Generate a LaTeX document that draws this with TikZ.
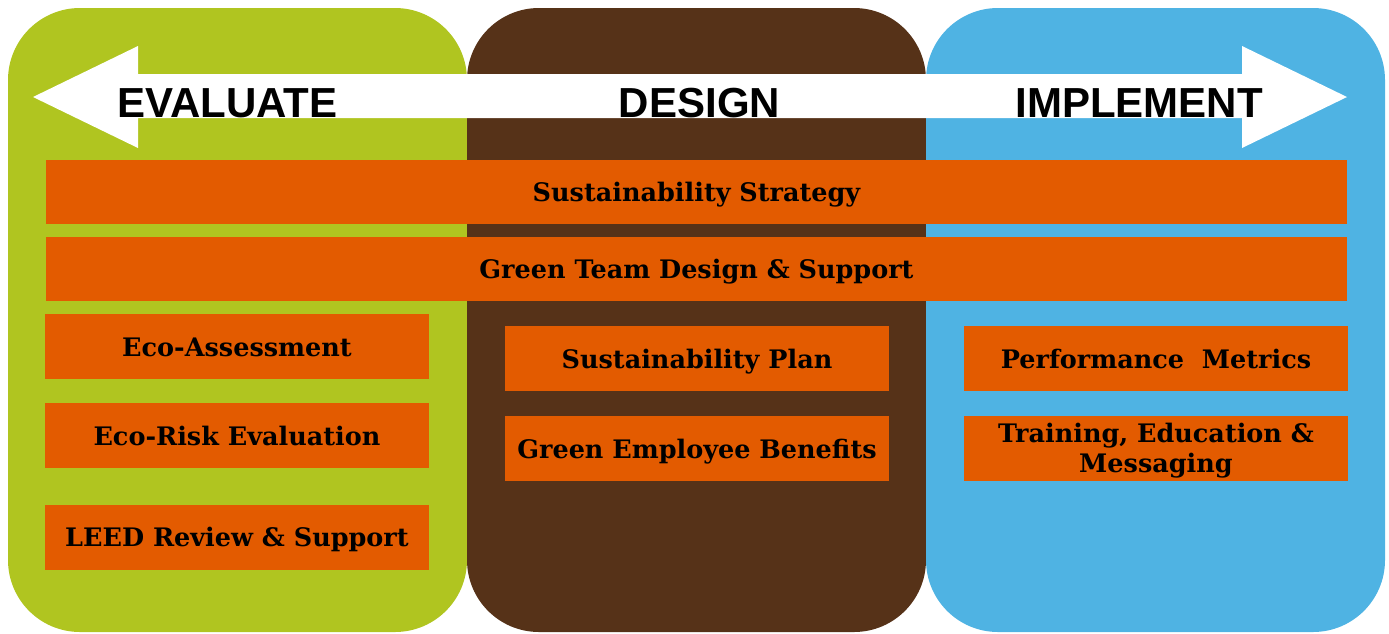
\documentclass[tikz,border=0pt]{standalone}
\usepackage{fontspec}
\setmainfont{DejaVu Serif}
\newfontfamily\hdrfont{Liberation Sans}
\definecolor{cgreen}{RGB}{176,197,32}
\definecolor{cbrown}{RGB}{86,50,24}
\definecolor{cblue}{RGB}{79,179,227}
\definecolor{corange}{RGB}{227,91,0}
\begin{document}
\begin{tikzpicture}[x=1pt,y=-1pt,
  box/.style={fill=corange, inner sep=0pt, align=center, text=black,
    font=\bfseries\fontsize{25.5}{30}\selectfont},
  oneline/.style={text height=25pt, text depth=6pt},
  wide/.style={box, oneline, minimum width=1301pt, minimum height=64pt},
  small/.style={box, minimum width=384pt, minimum height=65pt},
  hdr/.style={anchor=base, font=\hdrfont\bfseries\fontsize{42}{46}\selectfont, inner sep=0pt}]
\useasboundingbox (0,0) rectangle (1389,633);
\fill[cgreen, rounded corners=72pt] (8,8) rectangle (467,632);
\fill[cbrown, rounded corners=72pt] (467,8) rectangle (926,632);
\fill[cblue, rounded corners=72pt] (926,8) rectangle (1385,632);
\fill[white] (33,97) -- (138,46) -- (138,74) -- (1242,74) -- (1242,46) -- (1347,97)
  -- (1242,148) -- (1242,118) -- (138,118) -- (138,148) -- cycle;
\node[hdr] (ev) at (227.5,117) {EVALUATE};
\node[hdr] (de) at (699.5,117) {DESIGN};
\node[hdr] (im) at (1139,117) {IMPLEMENT};
\node[wide] (ss) at (696.5,192) {Sustainability Strategy};
\node[wide] (gt) at (696.5,269) {Green Team Design \& Support};
\node[small, oneline] (ea) at (237,346.5) {Eco-Assessment};
\node[small, oneline] (er) at (237,435.5) {Eco-Risk Evaluation};
\node[small, oneline] (lr) at (237,537) {LEED Review \& Support};
\node[small, oneline] (sp) at (697,358.5) {Sustainability Plan};
\node[small, oneline] (ge) at (697,448.5) {Green Employee Benefits};
\node[small, oneline] (pm) at (1156,358.5) {Performance\ \ Metrics};
\node[small] (te) at (1156,448.5) {};
\node[align=center, inner sep=0pt, font=\bfseries\fontsize{25.5}{30}\selectfont]
  (tet) at (1156,451) {Training, Education \&\\Messaging};
\end{tikzpicture}
\end{document}
